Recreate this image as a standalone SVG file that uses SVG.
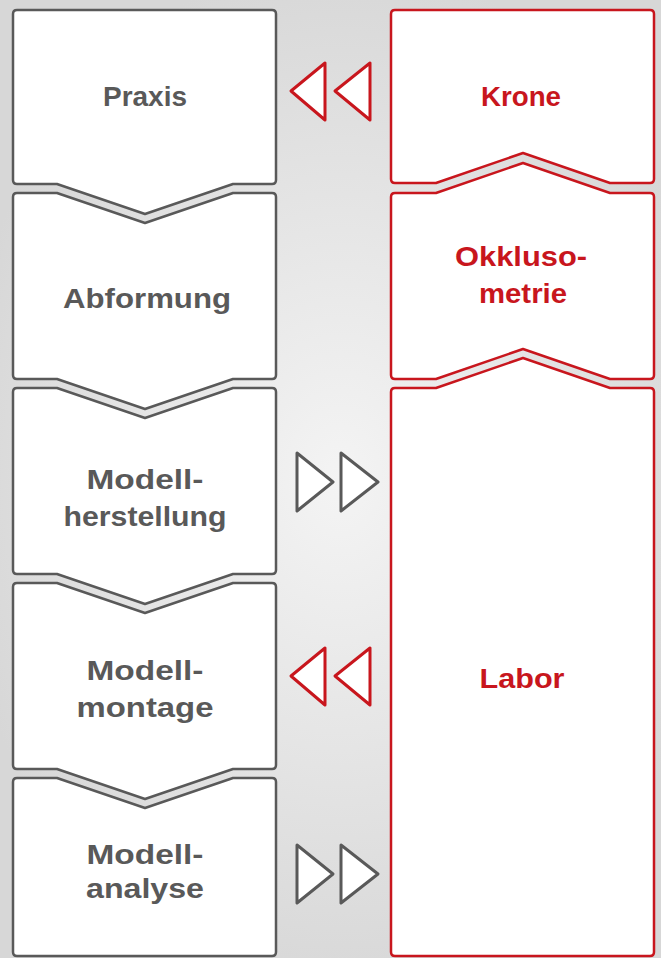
<svg xmlns="http://www.w3.org/2000/svg" width="661" height="958" viewBox="0 0 661 958">
<defs>
<radialGradient id="bg" cx="340" cy="480" r="520" gradientUnits="userSpaceOnUse" gradientTransform="translate(340 480) scale(0.75 1) translate(-340 -480)">
<stop offset="0" stop-color="#f4f4f4"/>
<stop offset="1" stop-color="#d7d7d7"/>
</radialGradient>
<style>
.g{fill:#ffffff;stroke:#595959;stroke-width:2.5;stroke-linejoin:round}
.r{fill:#ffffff;stroke:#c8161d;stroke-width:2.5;stroke-linejoin:round}
.ar{fill:#ffffff;stroke:#c8161d;stroke-width:3;stroke-linejoin:round}
.ag{fill:#ffffff;stroke:#595959;stroke-width:3;stroke-linejoin:round}
.tg{font-family:"Liberation Sans",Arial,sans-serif;font-weight:bold;font-size:28px;fill:#595959;text-anchor:middle}
.tr{font-family:"Liberation Sans",Arial,sans-serif;font-weight:bold;font-size:28px;fill:#c8161d;text-anchor:middle}
</style>
</defs>
<rect x="0" y="0" width="661" height="958" fill="url(#bg)"/>
<g id="praxis">
<path class="g" d="M13,14 Q13,10 17,10 H272 Q276,10 276,14 V180 Q276,184 272,184 H233 L145,214 L57,184 H17 Q13,184 13,180 Z"/>
<text class="tg" x="145" y="106" textLength="84" lengthAdjust="spacingAndGlyphs">Praxis</text>
</g>
<g id="abformung">
<path class="g" d="M13,197 Q13,193 17,193 H57 L145,223 L233,193 H272 Q276,193 276,197 V375 Q276,379 272,379 H233 L145,409 L57,379 H17 Q13,379 13,375 Z"/>
<text class="tg" x="147" y="308" textLength="168" lengthAdjust="spacingAndGlyphs">Abformung</text>
</g>
<g id="modellherstellung">
<path class="g" d="M13,392 Q13,388 17,388 H57 L145,418 L233,388 H272 Q276,388 276,392 V570 Q276,574 272,574 H233 L145,604 L57,574 H17 Q13,574 13,570 Z"/>
<text class="tg" x="145" y="489" textLength="117" lengthAdjust="spacingAndGlyphs">Modell-</text>
<text class="tg" x="145" y="526" textLength="163" lengthAdjust="spacingAndGlyphs">herstellung</text>
</g>
<g id="modellmontage">
<path class="g" d="M13,587 Q13,583 17,583 H57 L145,613 L233,583 H272 Q276,583 276,587 V765 Q276,769 272,769 H233 L145,799 L57,769 H17 Q13,769 13,765 Z"/>
<text class="tg" x="145" y="680" textLength="117" lengthAdjust="spacingAndGlyphs">Modell-</text>
<text class="tg" x="145" y="717" textLength="137" lengthAdjust="spacingAndGlyphs">montage</text>
</g>
<g id="modellanalyse">
<path class="g" d="M13,782 Q13,778 17,778 H57 L145,808 L233,778 H272 Q276,778 276,782 V952 Q276,956 272,956 H17 Q13,956 13,952 Z"/>
<text class="tg" x="145" y="864" textLength="117" lengthAdjust="spacingAndGlyphs">Modell-</text>
<text class="tg" x="145" y="898" textLength="118" lengthAdjust="spacingAndGlyphs">analyse</text>
</g>
<g id="krone">
<path class="r" d="M391,14 Q391,10 395,10 H650 Q654,10 654,14 V179 Q654,183 650,183 H610 L523,153 L436,183 H395 Q391,183 391,179 Z"/>
<text class="tr" x="521" y="106" textLength="80" lengthAdjust="spacingAndGlyphs">Krone</text>
</g>
<g id="okklusometrie">
<path class="r" d="M391,197 Q391,193 395,193 H436 L523,163 L610,193 H650 Q654,193 654,197 V375 Q654,379 650,379 H610 L523,349 L436,379 H395 Q391,379 391,375 Z"/>
<text class="tr" x="521" y="266" textLength="132" lengthAdjust="spacingAndGlyphs">Okkluso-</text>
<text class="tr" x="523" y="303" textLength="88" lengthAdjust="spacingAndGlyphs">metrie</text>
</g>
<g id="labor">
<path class="r" d="M391,392 Q391,388 395,388 H436 L523,358 L610,388 H650 Q654,388 654,392 V952 Q654,956 650,956 H395 Q391,956 391,952 Z"/>
<text class="tr" x="522" y="688" textLength="85" lengthAdjust="spacingAndGlyphs">Labor</text>
</g>
<g id="connectors">
<path class="ar" d="M291,91 L325,63 V120 Z"/>
<path class="ar" d="M335,91 L370,63 V120 Z"/>
<path class="ag" d="M297,453 L333,482 L297,511 Z"/>
<path class="ag" d="M341,453 L378,482 L341,511 Z"/>
<path class="ar" d="M291,676 L325,648 V705 Z"/>
<path class="ar" d="M335,676 L370,648 V705 Z"/>
<path class="ag" d="M297,845 L333,874 L297,903 Z"/>
<path class="ag" d="M341,845 L378,874 L341,903 Z"/>
</g>
</svg>
